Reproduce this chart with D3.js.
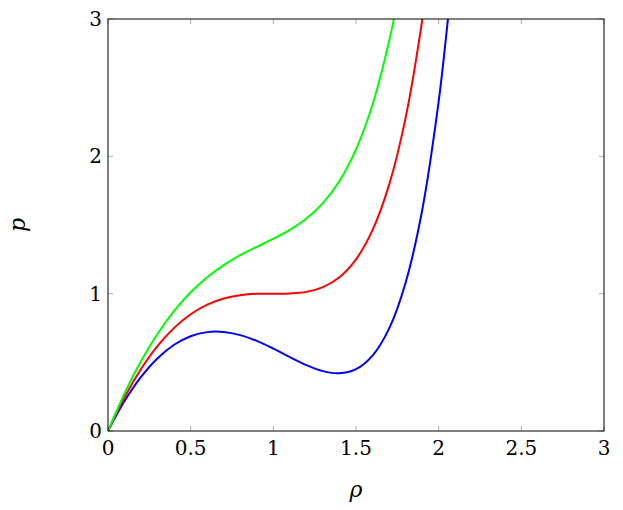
<!DOCTYPE html>
<html><head><meta charset="utf-8">
<script src="https://cdn.jsdelivr.net/npm/d3@7"></script>
<style>body{margin:0;background:#fff}</style>
</head><body><svg id="c" width="623" height="510" font-family="'DejaVu Serif', serif"></svg>
<script>
const rho = [0,0.1,0.2,0.3,0.4,0.5,0.6,0.7,0.8,0.9,1.0,1.1,1.2,1.3,1.4,1.5,1.6,1.7,1.8,1.9,2.0];
const pBlue  = [0,0.218,0.394,0.53,0.628,0.69,0.72,0.721,0.698,0.656,0.6,0.538,0.48,0.436,0.42,0.45,0.549,0.745,1.08,1.606,2.4];
const pRed   = [0,0.246,0.451,0.619,0.751,0.85,0.92,0.965,0.989,0.999,1.0,1.002,1.013,1.048,1.12,1.25,1.463,1.792,2.28,2.988];
const pGreen = [0,0.273,0.509,0.708,0.874,1.01,1.12,1.208,1.28,1.341,1.4,1.465,1.547,1.659,1.82,2.05,2.377,2.838];
// tail points beyond the last grid value (past the top edge)
const tailBlue = [[2.05,2.93],[2.1,3.5]];
const tailRed = [[1.95,3.45]];
const tailGreen = [[1.75,3.13],[1.8,3.5]];
const ticks = [0,0.5,1,1.5,2,2.5,3];
const yTicks = [0,1,2,3];

const L = 108, R = 604, T = 19, B = 431;
const x = d3.scaleLinear().domain([0,3]).range([L,R]);
const y = d3.scaleLinear().domain([0,3]).range([B,T]);
const svg = d3.select("#c");

svg.append("clipPath").attr("id","clip").append("rect")
  .attr("x",L).attr("y",T).attr("width",R-L).attr("height",B-T);

const line = d3.line().x(d => x(d[0])).y(d => y(d[1])).curve(d3.curveCatmullRom);
const series = [
  [pBlue, tailBlue, "#0000ff"],
  [pRed, tailRed, "#ff0000"],
  [pGreen, tailGreen, "#00ff00"]
];
const g = svg.append("g").attr("clip-path","url(#clip)");
for (const [vals, tail, col] of series) {
  const pts = vals.map((v,i) => [rho[i], v]).concat(tail);
  g.append("path").attr("d", line(pts)).attr("fill","none")
    .attr("stroke", col).attr("stroke-width", 2);
}

// tick marks (inside, both sides)
const tk = svg.append("g").attr("stroke","#999").attr("stroke-width",0.8);
for (const t of ticks) {
  tk.append("line").attr("x1",x(t)).attr("x2",x(t)).attr("y1",B).attr("y2",B-5);
  tk.append("line").attr("x1",x(t)).attr("x2",x(t)).attr("y1",T).attr("y2",T+5);
}
for (const t of yTicks) {
  tk.append("line").attr("y1",y(t)).attr("y2",y(t)).attr("x1",L).attr("x2",L+5);
  tk.append("line").attr("y1",y(t)).attr("y2",y(t)).attr("x1",R).attr("x2",R-5);
}
svg.append("rect").attr("x",L).attr("y",T).attr("width",R-L).attr("height",B-T)
  .attr("fill","none").attr("stroke","#000").attr("stroke-width",1);

svg.selectAll(".xt").data(ticks).join("text").attr("class","xt")
  .attr("x", d => x(d)).attr("y", B+24).attr("text-anchor","middle")
  .attr("font-size",20).text(d => d);
svg.selectAll(".yt").data(yTicks).join("text").attr("class","yt")
  .attr("x", L-6).attr("y", d => y(d)+7).attr("text-anchor","end")
  .attr("font-size",20).text(d => d);

svg.append("text").attr("x",(L+R)/2).attr("y",497).attr("text-anchor","middle")
  .attr("font-size",22).attr("font-style","italic").text("ρ");
svg.append("text").attr("transform",`translate(25,${(T+B)/2}) rotate(-90)`)
  .attr("text-anchor","middle").attr("font-size",22).attr("font-style","italic").text("p");
</script></body></html>
